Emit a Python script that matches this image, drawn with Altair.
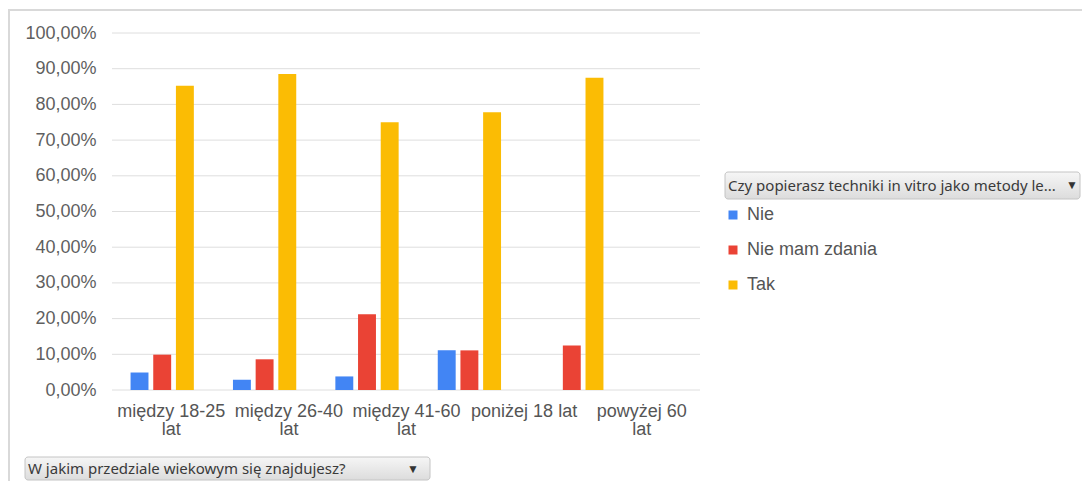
import altair as alt
import pandas as pd

# ---- data ----
categories = ["między 18-25 lat", "między 26-40 lat", "między 41-60 lat", "poniżej 18 lat", "powyżej 60 lat"]
series = ["Nie", "Nie mam zdania", "Tak"]
nie = [0.049, 0.029, 0.038, 0.111, 0.0]
nie_mam_zdania = [0.099, 0.086, 0.212, 0.111, 0.125]
tak = [0.852, 0.885, 0.750, 0.778, 0.875]
colors = ["#4285F4", "#EA4335", "#FBBC04"]
y_ticks = [0.0, 0.1, 0.2, 0.3, 0.4, 0.5, 0.6, 0.7, 0.8, 0.9, 1.0]
legend_title = "Czy popierasz techniki in vitro jako metody le..."
x_title = "W jakim przedziale wiekowym się znajdujesz?"

rows = []
for i, c in enumerate(categories):
    for s, vals in zip(series, [nie, nie_mam_zdania, tak]):
        rows.append({"category": c, "series": s, "value": vals[i]})
df = pd.DataFrame(rows)
cat_df = pd.DataFrame({"category": categories})
tick_df = pd.DataFrame({"value": y_ticks})
one = pd.DataFrame({"a": [0]})

FONT = "Liberation Sans"
UI_FONT = "Noto Sans"
W, H = 588, 357

yscale = alt.Scale(domain=[0, 1], nice=False)
yaxis = alt.Axis(values=y_ticks, title=None, ticks=False, domain=False, grid=False,
                 labelExpr="replace(format(datum.value, '.2%'), '.', ',')",
                 labelFont=FONT, labelFontSize=18, labelColor="#5f5f5f", labelPadding=16)

grid = alt.Chart(tick_df).mark_rule(color="#dedede", strokeWidth=1).encode(
    y=alt.Y("value:Q", scale=yscale, axis=yaxis),
    x=alt.value(0), x2=alt.value(W),
)

bars = alt.Chart(df).mark_bar().encode(
    x=alt.X("category:N", sort=categories,
            scale=alt.Scale(domain=categories, range=[-1, 511], paddingInner=0.382, paddingOuter=0.191),
            axis=None),
    xOffset=alt.XOffset("series:N", sort=series,
                        scale=alt.Scale(domain=series, paddingInner=0.21, paddingOuter=0)),
    y=alt.Y("value:Q", scale=yscale, axis=yaxis),
    color=alt.Color("series:N", sort=series,
                    scale=alt.Scale(domain=series, range=colors),
                    legend=alt.Legend(title=None, orient="none", legendX=612, legendY=173,
                                      symbolType="square", symbolSize=81, symbolStrokeWidth=0,
                                      labelFont=FONT, labelFontSize=18, labelColor="#555555",
                                      rowPadding=17, labelOffset=5)),
)

xlabels = alt.Chart(cat_df).mark_point(opacity=0).encode(
    x=alt.X("category:N", sort=categories,
            scale=alt.Scale(domain=categories, type="point", padding=0.5),
            axis=alt.Axis(title=None, ticks=False, domain=False, grid=False, labelAngle=0,
                          labelExpr="datum.label == 'poniżej 18 lat' ? datum.label : [replace(datum.label, ' lat', ''), 'lat']",
                          labelFont=FONT, labelFontSize=18, labelColor="#555555",
                          labelPadding=12, labelLineHeight=18, labelLimit=200)),
)

grad = alt.LinearGradient(gradient="linear", x1=0, x2=0, y1=0, y2=1,
                          stops=[alt.GradientStop(color="#f6f6f6", offset=0),
                                 alt.GradientStop(color="#dcdcdc", offset=1)])

box_top = alt.Chart(one).mark_rect(fill=grad, stroke="#c4c4c4", strokeWidth=1, cornerRadius=3).encode(
    x=alt.value(613), x2=alt.value(968), y=alt.value(139), y2=alt.value(166))
text_top = alt.Chart(one).mark_text(align="left", baseline="middle", font=UI_FONT, fontSize=15,
                                    color="#3a3a3a", text=legend_title).encode(
    x=alt.value(616), y=alt.value(152.5))
arrow_top = alt.Chart(one).mark_text(align="center", baseline="middle", fontSize=12,
                                     color="#333333", text="▼").encode(
    x=alt.value(960), y=alt.value(152))

box_bot = alt.Chart(one).mark_rect(fill=grad, stroke="#c4c4c4", strokeWidth=1, cornerRadius=3).encode(
    x=alt.value(-87), x2=alt.value(318), y=alt.value(424), y2=alt.value(447))
text_bot = alt.Chart(one).mark_text(align="left", baseline="middle", font=UI_FONT, fontSize=15,
                                    color="#3a3a3a", text=x_title).encode(
    x=alt.value(-84), y=alt.value(435.5))
arrow_bot = alt.Chart(one).mark_text(align="center", baseline="middle", fontSize=12,
                                     color="#333333", text="▼").encode(
    x=alt.value(301), y=alt.value(435.5))

frame_top = alt.Chart(one).mark_rule(color="#d9d9d9", strokeWidth=2).encode(
    x=alt.value(-104), x2=alt.value(970), y=alt.value(-23))
frame_left = alt.Chart(one).mark_rule(color="#d9d9d9", strokeWidth=2).encode(
    x=alt.value(-103), y=alt.value(-24), y2=alt.value(450))

chart = alt.layer(
    frame_top, frame_left, grid, bars, xlabels, box_top, text_top, arrow_top, box_bot, text_bot, arrow_bot
).resolve_scale(x="independent").properties(
    width=W, height=H,
    autosize=alt.AutoSizeParams(type="none"),
    padding={"left": 104, "top": 25, "right": 382, "bottom": 91},
    background="white",
).configure_view(stroke=None)

chart.save("out.html", embed_options={"renderer": "svg", "actions": False})
